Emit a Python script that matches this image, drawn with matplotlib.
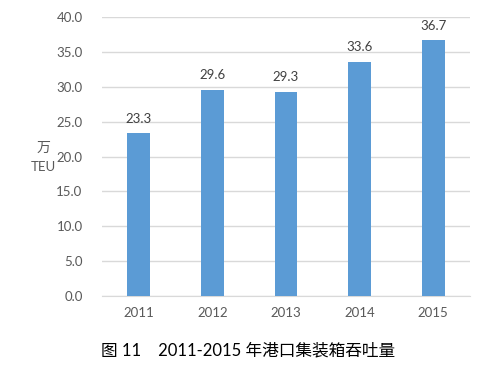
import matplotlib
matplotlib.use("Agg")
import matplotlib.pyplot as plt

# Container throughput of ports, 2011-2015 (10k TEU)
years = ["2011", "2012", "2013", "2014", "2015"]
throughput = [23.3, 29.6, 29.3, 33.6, 36.7]
y_ticks = [0, 5, 10, 15, 20, 25, 30, 35, 40]

plt.rcParams['font.family'] = ['Lato', 'Noto Sans CJK SC', 'DejaVu Sans']

text_color = "#595959"
bar_color = "#5B9BD5"

fig = plt.figure(figsize=(5, 3.7), dpi=100)
ax = fig.add_axes([0.204, 0.2, 0.736, 0.754])

x = range(len(years))
bars = ax.bar(x, throughput, width=0.31, color=bar_color, zorder=3)

for rect, val in zip(bars, throughput):
    ax.text(rect.get_x() + rect.get_width() / 2, val + 1.2, f"{val:.1f}",
            ha="center", va="bottom", fontsize=9.5, color="#404040")

ax.set_xlim(-0.5, len(years) - 0.5)
ax.set_ylim(0, 40)
ax.set_yticks(y_ticks)
ax.set_yticklabels([f"{t:.1f}" for t in y_ticks])
ax.set_xticks(list(x))
ax.set_xticklabels(years)
ax.tick_params(axis="both", length=0, labelsize=9.5, labelcolor=text_color)
ax.tick_params(axis="y", pad=14)
ax.tick_params(axis="x", pad=8)

ax.yaxis.grid(True, color="#D9D9D9", linewidth=1, zorder=0)
for side in ["top", "right", "left"]:
    ax.spines[side].set_visible(False)
ax.spines["bottom"].set_color("#D9D9D9")

fig.text(0.086, 0.6, "万", ha="center", va="center", fontsize=10, color=text_color,
         family=['Noto Sans CJK SC', 'DejaVu Sans'])
fig.text(0.086, 0.548, "TEU", ha="center", va="center", fontsize=9.5, color=text_color)

fig.text(0.202, 0.053, "图 11    2011-2015 年港口集装箱吞吐量", ha="left", va="center",
         fontsize=12, color="black")

fig.savefig("out.png", dpi=100)
